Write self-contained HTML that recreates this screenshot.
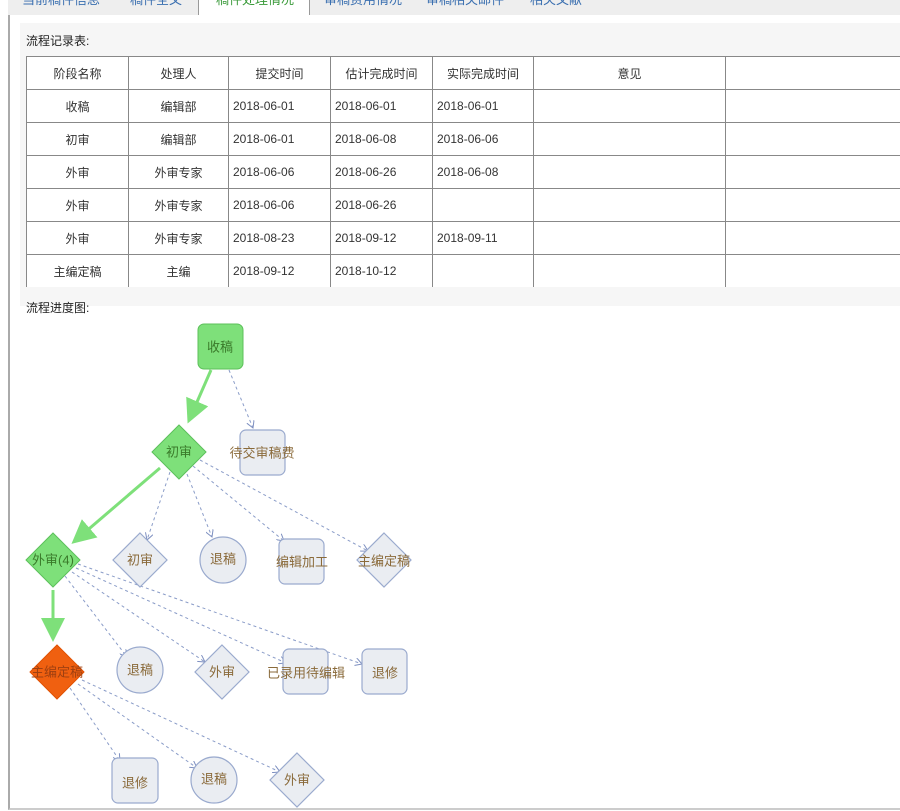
<!DOCTYPE html>
<html><head><meta charset="utf-8"><style>
body{margin:0;width:900px;height:811px;overflow:hidden;background:#fff;font-family:"Liberation Sans","Noto Sans CJK SC",sans-serif;position:relative}
.tabs{position:absolute;left:8px;top:0;width:892px;height:15px;background:#eee;border-bottom:1px solid #999}
.tab{position:absolute;top:-11px;font-size:13px;color:#3a6fb0}
.panel{position:absolute;left:8px;top:15px;width:892px;height:793px;border-left:2px solid #aaa;border-bottom:2px solid #ccc;background:#fff}
.sec{position:absolute;left:10px;top:8px;width:882px;height:283px;background:#f6f6f6}
.lbl{position:absolute;font-size:12px;color:#222}
table{position:absolute;left:26px;top:56px;width:880px;border-collapse:collapse;font-size:12px;color:#333;background:#fff;table-layout:fixed}
td{border:1px solid #888;height:32px;padding:0 4px;white-space:nowrap}
td.c{text-align:center}
</style></head><body>
<div class="tabs">
<span class="tab" style="left:14px">当前稿件信息</span>
<span class="tab" style="left:122px">稿件全文</span>
<div style="position:absolute;left:190px;top:-2px;width:110px;height:19px;background:#fff;border:1px solid #999;border-bottom:none"></div>
<span class="tab" style="left:208px;color:#3a9a3a">稿件处理情况</span>
<span class="tab" style="left:316px">审稿费用情况</span>
<span class="tab" style="left:418px">审稿相关邮件</span>
<span class="tab" style="left:522px">相关文献</span>
</div>
<div class="panel"><div class="sec"></div></div>
<div class="lbl" style="left:26px;top:32px">流程记录表:</div>
<table>
<colgroup><col style="width:102px"><col style="width:100px"><col style="width:102px"><col style="width:102px"><col style="width:101px"><col style="width:192px"><col></colgroup>
<tr><td class="c">阶段名称</td><td class="c">处理人</td><td class="c">提交时间</td><td class="c">估计完成时间</td><td class="c">实际完成时间</td><td class="c">意见</td><td style="border-right:none"></td></tr>
<tr><td class="c">收稿</td><td class="c">编辑部</td><td>2018-06-01</td><td>2018-06-01</td><td>2018-06-01</td><td></td><td style="border-right:none"></td></tr>
<tr><td class="c">初审</td><td class="c">编辑部</td><td>2018-06-01</td><td>2018-06-08</td><td>2018-06-06</td><td></td><td style="border-right:none"></td></tr>
<tr><td class="c">外审</td><td class="c">外审专家</td><td>2018-06-06</td><td>2018-06-26</td><td>2018-06-08</td><td></td><td style="border-right:none"></td></tr>
<tr><td class="c">外审</td><td class="c">外审专家</td><td>2018-06-06</td><td>2018-06-26</td><td></td><td></td><td style="border-right:none"></td></tr>
<tr><td class="c">外审</td><td class="c">外审专家</td><td>2018-08-23</td><td>2018-09-12</td><td>2018-09-11</td><td></td><td style="border-right:none"></td></tr>
<tr><td class="c" style="border-bottom:none">主编定稿</td><td class="c" style="border-bottom:none">主编</td><td style="border-bottom:none">2018-09-12</td><td style="border-bottom:none">2018-10-12</td><td style="border-bottom:none"></td><td style="border-bottom:none"></td><td style="border-right:none;border-bottom:none"></td></tr>
</table>
<div class="lbl" style="left:26px;top:299px">流程进度图:</div>
<svg width="900" height="811" style="position:absolute;left:0;top:0" font-family="Liberation Sans,Noto Sans CJK SC,sans-serif" font-size="13">
<defs>
<marker id="ga" markerWidth="8" markerHeight="8" refX="6" refY="4" orient="auto"><path d="M0,0 L8,4 L0,8 z" fill="#7ee07a"/></marker>
<marker id="da" markerWidth="8" markerHeight="8" refX="7" refY="4" orient="auto"><path d="M0,0 L7,4 L0,8" fill="none" stroke="#7d8fc0" stroke-width="1"/></marker>
</defs>
<g stroke="#8a9cc8" stroke-width="1" stroke-dasharray="3,3" fill="none" marker-end="url(#da)">
<line x1="229" y1="370" x2="253" y2="428"/>
<line x1="170" y1="472" x2="147" y2="540"/>
<line x1="187" y1="474" x2="212" y2="537"/>
<line x1="193" y1="466" x2="284" y2="541"/>
<line x1="200" y1="460" x2="368" y2="551"/>
<line x1="65" y1="576" x2="127" y2="657"/>
<line x1="72" y1="572" x2="205" y2="662"/>
<line x1="76" y1="568" x2="286" y2="663"/>
<line x1="78" y1="564" x2="362" y2="664"/>
<line x1="70" y1="688" x2="120" y2="761"/>
<line x1="78" y1="684" x2="197" y2="768"/>
<line x1="82" y1="680" x2="280" y2="772"/>
</g>
<g stroke="#7ee07a" stroke-width="3" fill="none" marker-end="url(#ga)">
<line x1="211" y1="370" x2="190" y2="418"/>
<line x1="160" y1="468" x2="76" y2="540"/>
<line x1="53" y1="590" x2="53" y2="636"/>
</g>
<g fill="#7ee07a" stroke="#5cc05a" stroke-width="1">
<rect x="198" y="324" width="45" height="45" rx="6"/>
<polygon points="179,425 206,452 179,479 152,452"/>
<polygon points="53,533 80,560 53,587 26,560"/>
</g>
<polygon points="57,645 84,672 57,699 30,672" fill="#f06010" stroke="#e05000"/>
<g fill="#eaedf2" stroke="#9aaace" stroke-width="1.2">
<rect x="240" y="430" width="45" height="45" rx="6"/>
<polygon points="140,533 167,560 140,587 113,560"/>
<circle cx="223" cy="560" r="23"/>
<rect x="279" y="539" width="45" height="45" rx="6"/>
<polygon points="384,533 411,560 384,587 357,560"/>
<circle cx="140" cy="670" r="23"/>
<polygon points="222,645 249,672 222,699 195,672"/>
<rect x="283" y="649" width="45" height="45" rx="6"/>
<rect x="362" y="649" width="45" height="45" rx="6"/>
<rect x="112" y="758" width="46" height="45" rx="6"/>
<circle cx="214" cy="780" r="23"/>
<polygon points="297,753 324,780 297,807 270,780"/>
</g>
<g text-anchor="middle" dominant-baseline="central">
<text x="220" y="347" fill="#3a7a2a">收稿</text>
<text x="179" y="452" fill="#3a7a2a">初审</text>
<text x="53" y="560" fill="#3a7a2a">外审(4)</text>
<text x="57" y="672" fill="#a04010">主编定稿</text>
<g fill="#8a6a3a">
<text x="262" y="453">待交审稿费</text>
<text x="140" y="560">初审</text>
<text x="223" y="559">退稿</text>
<text x="302" y="562">编辑加工</text>
<text x="384" y="561">主编定稿</text>
<text x="140" y="670">退稿</text>
<text x="222" y="672">外审</text>
<text x="306" y="673">已录用待编辑</text>
<text x="385" y="673">退修</text>
<text x="135" y="783">退修</text>
<text x="214" y="779">退稿</text>
<text x="297" y="780">外审</text>
</g></g>
</svg>
</body></html>
